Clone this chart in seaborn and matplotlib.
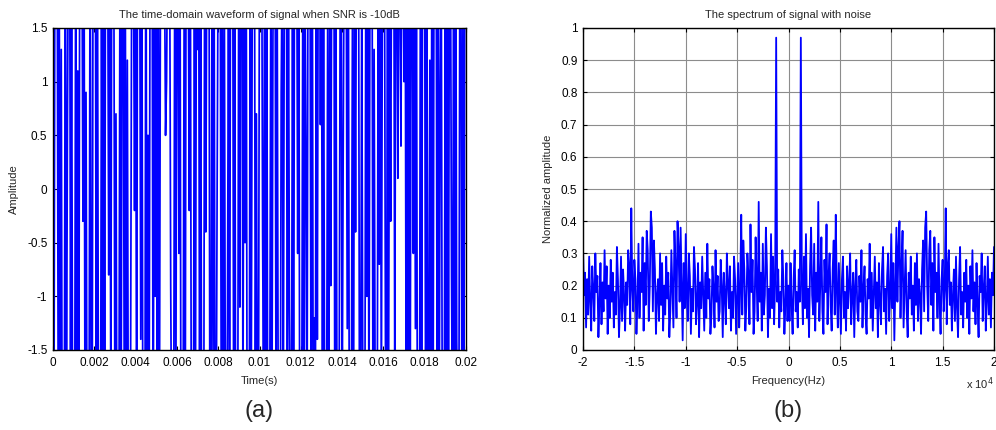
import numpy as np
import pandas as pd
import matplotlib
matplotlib.use("Agg")
import matplotlib.pyplot as plt
import seaborn as sns

# ---------------- data ----------------
fs_time = 20000.0  # samples per second of the plotted waveform
wave_values = [
    2.8,-2.1,3.1,2.4,2.7,-1.9,2.2,-2.6,1.3,-3.0,-2.5,-2.2,2.9,-2.2,0.6,2.7,3.3,-1.7,2.0,-2.4,
    -1.8,-2.6,2.6,-3.2,1.1,-2.3,2.9,2.0,2.5,-0.3,2.7,-2.3,0.9,-2.6,-2.4,-1.9,2.8,-2.1,-2.0,3.4,
    2.3,2.5,-2.5,2.6,-2.2,-1.6,-2.9,1.9,-1.7,2.7,-2.3,3.1,1.5,2.2,-0.8,2.5,-2.2,3.0,2.6,1.8,
    -2.4,0.7,-2.9,-2.2,-1.7,2.8,-2.3,2.6,2.1,-1.9,2.1,-3.0,1.2,-2.6,-2.5,-2.2,1.6,2.9,2.0,-0.2,
    2.4,-2.8,3.1,2.5,2.1,-1.4,2.6,-2.3,-1.8,-2.7,3.2,-2.4,0.5,-2.8,2.2,1.9,2.6,-2.9,2.0,-1.0,
    3.0,-2.3,2.4,-2.7,1.6,2.0,2.5,3.3,2.1,0.5,1.0,2.4,1.9,2.2,-0.9,-2.6,-2.2,-1.9,2.6,-2.1,
    2.3,2.0,-0.6,2.7,-3.1,-2.4,-2.2,1.7,-2.8,2.9,1.8,2.2,-0.2,2.5,-2.6,-3.2,-2.3,2.1,-1.9,2.6,
    1.3,2.8,-2.2,2.4,-3.0,-1.6,-2.7,3.3,-0.4,2.3,2.1,2.9,-2.7,-2.2,1.9,-1.5,2.4,-2.9,-2.6,0.1,
    2.3,2.8,2.0,-2.2,2.5,-2.6,1.7,-2.4,-3.0,-1.2,2.1,-2.8,2.6,2.0,2.8,-2.5,2.3,-3.1,-1.8,-2.0,
    2.6,-1.1,3.0,2.7,-2.2,2.4,-0.5,2.9,-2.3,-1.6,-2.7,2.2,-2.1,1.9,2.8,3.1,-2.0,0.7,-2.5,-2.4,
    2.6,1.9,2.9,-0.4,-2.2,3.2,-1.8,2.3,-2.6,-2.7,-1.9,2.1,-2.5,1.4,2.8,3.0,-2.2,2.4,-1.6,-2.6,
    -3.2,0.9,2.2,-2.4,1.8,2.0,2.9,-2.7,2.1,-1.1,-2.5,-2.3,2.0,-2.8,2.9,1.7,2.6,-0.6,2.4,-2.6,
    -3.1,-1.9,2.2,-2.6,2.1,0.3,-2.8,2.5,1.7,2.0,-2.4,3.3,-2.2,-1.2,-2.7,2.3,-1.4,2.8,3.0,0.6,
    2.6,-2.5,2.1,-1.8,-2.7,-2.3,1.5,-2.9,2.2,-0.9,2.4,2.1,2.9,-2.6,1.9,-2.2,-2.7,-2.5,1.6,3.0,
    -2.4,0.2,2.3,2.8,2.0,-1.3,2.6,-2.5,-3.2,-2.0,1.6,-2.9,2.4,-0.4,2.7,2.3,2.1,-3.1,-2.2,1.8,
    -1.7,-2.6,-2.6,2.2,-1.0,2.8,-2.4,2.0,2.1,2.5,-2.8,1.3,-1.9,-3.0,-2.5,2.3,-0.7,2.6,-2.2,1.9,
    2.9,2.4,-1.5,-2.6,2.8,-2.0,2.1,-0.3,2.5,2.7,2.9,-1.8,2.2,2.4,0.1,2.6,1.9,0.4,2.8,2.4,
    1.0,2.7,-1.9,2.7,-2.3,2.9,-1.9,2.6,2.1,-0.6,2.4,-1.3,2.2,-2.8,-1.7,-2.3,3.1,-2.0,2.5,2.6,
    2.0,-2.9,2.7,-2.4,-2.1,1.2,-2.1,2.6,-3.0,2.2,2.5,2.8,-1.7,2.9,-2.5,0.9,2.4,-2.2,-2.6,-1.9,
    2.1,-2.7,3.2,-1.9,2.5,2.2,-0.8,-2.6,2.3,-2.3,2.8,-1.4,-2.4,-2.8,2.0,2.6,-2.1,1.5,-2.4,3.0,
]

freq_step = 100.0  # Hz between spectrum bins
# magnitude for 0 Hz .. 20000 Hz (the spectrum is symmetric about 0 Hz)
spectrum_pos = [
    0.20,0.09,0.27,0.14,0.05,0.22,0.31,0.12,0.18,0.07,
    0.25,0.15,0.97,0.21,0.08,0.29,0.13,0.36,0.10,0.19,
    0.04,0.26,0.38,0.17,0.11,0.33,0.06,0.24,0.15,0.46,
    0.09,0.21,0.35,0.12,0.05,0.28,0.18,0.39,0.08,0.23,
    0.30,0.14,0.06,0.25,0.34,0.11,0.42,0.19,0.07,0.27,
    0.16,0.05,0.22,0.29,0.10,0.18,0.06,0.26,0.13,0.21,
    0.30,0.08,0.17,0.24,0.04,0.20,0.28,0.12,0.09,0.23,
    0.15,0.31,0.07,0.19,0.26,0.11,0.05,0.22,0.16,0.33,
    0.10,0.24,0.06,0.18,0.29,0.13,0.21,0.04,0.27,0.15,
    0.08,0.25,0.32,0.12,0.19,0.05,0.23,0.30,0.09,0.17,
    0.36,0.13,0.27,0.03,0.21,0.38,0.15,0.32,0.40,0.10,
    0.26,0.37,0.07,0.19,0.31,0.12,0.04,0.24,0.16,0.29,
    0.11,0.20,0.06,0.27,0.14,0.30,0.09,0.22,0.17,0.05,
    0.25,0.34,0.12,0.38,0.43,0.20,0.09,0.31,0.37,0.14,
    0.27,0.06,0.35,0.18,0.24,0.10,0.33,0.15,0.05,0.22,
    0.28,0.12,0.19,0.44,0.08,0.26,0.31,0.14,0.21,0.06,
    0.17,0.25,0.09,0.29,0.13,0.04,0.22,0.32,0.11,0.18,
    0.07,0.24,0.15,0.28,0.10,0.20,0.05,0.26,0.16,0.31,
    0.12,0.21,0.08,0.27,0.14,0.04,0.23,0.18,0.30,0.09,
    0.19,0.26,0.06,0.15,0.29,0.11,0.22,0.07,0.24,0.17,
    0.32,
]

time_ticks = [0, 0.002, 0.004, 0.006, 0.008, 0.01, 0.012, 0.014, 0.016, 0.018, 0.02]
time_tick_labels = ["0", "0.002", "0.004", "0.006", "0.008", "0.01", "0.012",
                    "0.014", "0.016", "0.018", "0.02"]
amp_ticks = [-1.5, -1, -0.5, 0, 0.5, 1, 1.5]
amp_tick_labels = ["-1.5", "-1", "-0.5", "0", "0.5", "1", "1.5"]
freq_ticks = [-20000, -15000, -10000, -5000, 0, 5000, 10000, 15000, 20000]
freq_tick_labels = ["-2", "-1.5", "-1", "-0.5", "0", "0.5", "1", "1.5", "2"]
spec_ticks = [0, 0.1, 0.2, 0.3, 0.4, 0.5, 0.6, 0.7, 0.8, 0.9, 1]
spec_tick_labels = ["0", "0.1", "0.2", "0.3", "0.4", "0.5", "0.6", "0.7", "0.8", "0.9", "1"]

# ---------------- tables ----------------
wave = np.array(wave_values)
t = np.arange(len(wave)) / fs_time
df_wave = pd.DataFrame({"t": t, "amp": wave})

spec_half = np.array(spectrum_pos)
f_half = np.arange(len(spec_half)) * freq_step
freqs = np.concatenate([-f_half[:0:-1], f_half])
spec = np.concatenate([spec_half[:0:-1], spec_half])
df_spec = pd.DataFrame({"f": freqs, "mag": spec})

# ---------------- style ----------------
sns.set_style("white")
plt.rcParams["font.family"] = ["Liberation Sans", "DejaVu Sans"]
plt.rcParams["axes.edgecolor"] = "black"
plt.rcParams["axes.linewidth"] = 1.0

fig = plt.figure(figsize=(9.96, 4.30), dpi=100)
ax1 = fig.add_axes([53/996, 1-350/430, (466-53)/996, (350-28)/430])
ax2 = fig.add_axes([583/996, 1-350/430, (994-583)/996, (350-28)/430])

tick_fs = 8.5
blue = "#0000ff"

# --- (a) time domain ---
sns.lineplot(data=df_wave, x="t", y="amp", ax=ax1, color=blue, linewidth=1.25,
             estimator=None, sort=False)
ax1.set_xlim(0, 0.02)
ax1.set_ylim(-1.5, 1.5)
ax1.set_xticks(time_ticks)
ax1.set_xticklabels(time_tick_labels, fontsize=tick_fs)
ax1.set_yticks(amp_ticks)
ax1.set_yticklabels(amp_tick_labels, fontsize=tick_fs)
ax1.set_xlabel("Time(s)", fontsize=8, labelpad=5)
ax1.set_ylabel("Amplitude", fontsize=8, labelpad=6)
ax1.set_title("The time-domain waveform of signal when SNR is -10dB", fontsize=8, pad=7)

# --- (b) spectrum ---
sns.lineplot(data=df_spec, x="f", y="mag", ax=ax2, color=blue, linewidth=1.3,
             estimator=None, sort=False)
ax2.set_xlim(-20000, 20000)
ax2.set_ylim(0, 1)
ax2.set_xticks(freq_ticks)
ax2.set_xticklabels(freq_tick_labels, fontsize=tick_fs)
ax2.set_yticks(spec_ticks)
ax2.set_yticklabels(spec_tick_labels, fontsize=tick_fs)
ax2.grid(True, color="#8c8c8c", linewidth=0.8, linestyle="-")
ax2.set_axisbelow(True)
ax2.set_xlabel("Frequency(Hz)", fontsize=8, labelpad=5)
ax2.set_ylabel("Normalized amplitude", fontsize=8, labelpad=6)
ax2.set_title("The spectrum of signal with noise", fontsize=8, pad=7)
ax2.text(1.0, -0.08, r"x 10$^{4}$", transform=ax2.transAxes, fontsize=8,
         ha="right", va="top")

for ax in (ax1, ax2):
    ax.tick_params(direction="in", length=3, width=0.8, top=True, right=True,
                   bottom=True, left=True, pad=5, colors="black")
    ax.tick_params(axis="y", pad=4)
    for s in ax.spines.values():
        s.set_visible(True)
        s.set_color("black")
        s.set_linewidth(1.0)

fig.text((53+466)/2/996, 1-411/430, "(a)", fontsize=17, ha="center", va="center")
fig.text((583+994)/2/996, 1-411/430, "(b)", fontsize=17, ha="center", va="center")

fig.savefig("out.png", dpi=100)
